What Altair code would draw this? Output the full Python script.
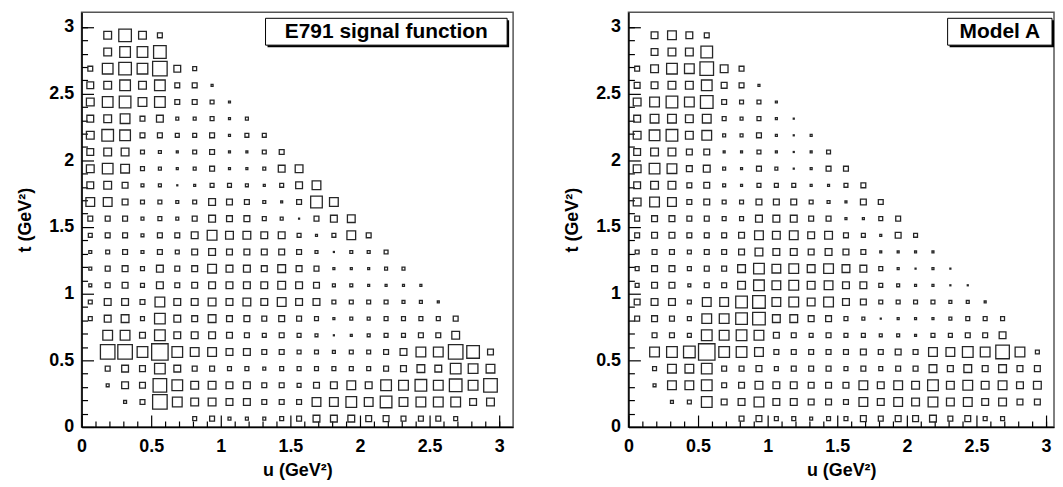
import altair as alt
import pandas as pd

# ---------------- data ----------------
N_BINS = 24
BIN_WIDTH = 0.125
U_CENTERS = [0.0625 + BIN_WIDTH * i for i in range(N_BINS)]
T_CENTERS = [0.0625 + BIN_WIDTH * i for i in range(N_BINS)]

MAJOR_TICKS = [0, 0.5, 1, 1.5, 2, 2.5, 3]
MINOR_TICKS = [0.1, 0.2, 0.3, 0.4, 0.6, 0.7, 0.8, 0.9, 1.1, 1.2, 1.3, 1.4,
               1.6, 1.7, 1.8, 1.9, 2.1, 2.2, 2.3, 2.4, 2.6, 2.7, 2.8, 2.9, 3.0]

# relative bin contents, rows listed from top (t bin 23) to bottom (t bin 0)
E791_ROWS = [
    [0, 8, 13, 8, 5],
    [0, 8, 11, 11, 13],
    [5, 11, 13, 11, 15, 7, 4],
    [7, 8, 11, 8, 11, 5, 5, 2],
    [8, 11, 12, 9, 11, 5, 5, 4, 2],
    [7, 8, 10, 5, 7, 3, 3, 4, 2, 3],
    [8, 12, 11, 5, 5, 4, 4, 5, 2, 4, 4],
    [7, 8, 8, 4, 3, 2, 4, 5, 2, 2, 4, 5],
    [8, 11, 9, 4, 3, 2, 3, 5, 2, 2, 3, 7, 8],
    [7, 8, 6, 3, 3, 1, 2, 4, 4, 3, 2, 4, 7, 9],
    [9, 9, 6, 4, 4, 3, 4, 7, 6, 5, 3, 2, 5, 12, 9],
    [5, 5, 5, 3, 4, 3, 5, 7, 6, 6, 4, 3, 1, 5, 7, 8],
    [4, 5, 5, 3, 5, 5, 7, 10, 8, 8, 7, 7, 4, 2, 4, 9, 5],
    [3, 4, 5, 3, 5, 4, 6, 7, 6, 6, 6, 6, 5, 3, 1, 3, 3, 4],
    [3, 5, 6, 4, 7, 5, 6, 9, 7, 7, 6, 8, 6, 5, 2, 2, 2, 3, 3],
    [3, 5, 6, 4, 7, 5, 6, 7, 7, 7, 7, 8, 7, 6, 3, 3, 2, 2, 2, 2],
    [4, 7, 7, 5, 10, 7, 7, 8, 7, 8, 7, 9, 7, 7, 4, 4, 4, 4, 3, 3, 2],
    [4, 7, 8, 4, 11, 7, 6, 8, 6, 6, 5, 6, 5, 4, 2, 3, 3, 4, 4, 4, 4, 5],
    [0, 10, 10, 6, 11, 7, 7, 7, 6, 5, 4, 5, 4, 3, 1, 2, 3, 4, 4, 5, 5, 8],
    [0, 15, 15, 11, 17, 11, 9, 9, 7, 7, 5, 5, 4, 4, 3, 4, 4, 5, 7, 10, 10, 15, 13, 6],
    [0, 5, 7, 6, 11, 7, 5, 5, 4, 4, 3, 4, 4, 4, 4, 4, 4, 5, 6, 8, 7, 11, 10, 9],
    [0, 3, 7, 6, 14, 11, 8, 8, 7, 7, 5, 5, 4, 6, 7, 9, 7, 11, 10, 12, 10, 13, 10, 14],
    [0, 0, 3, 5, 15, 10, 8, 8, 7, 7, 5, 5, 5, 9, 9, 11, 9, 12, 9, 10, 10, 10, 7, 8],
    [0, 0, 0, 0, 0, 0, 4, 5, 3, 3, 3, 4, 5, 7, 7, 7, 6, 6, 5, 5, 5, 4, 0, 0],
]

MODEL_A_ROWS = [
    [0, 7, 9, 7, 5],
    [0, 7, 8, 8, 12],
    [5, 8, 11, 10, 14, 8, 5],
    [6, 7, 8, 8, 11, 6, 5, 2],
    [8, 10, 12, 10, 13, 5, 4, 4, 2],
    [7, 9, 9, 8, 9, 4, 3, 4, 2, 1],
    [8, 11, 12, 8, 10, 3, 3, 5, 2, 1, 2],
    [7, 8, 8, 6, 6, 2, 2, 4, 2, 1, 2, 4],
    [8, 11, 10, 6, 7, 3, 2, 5, 3, 1, 2, 5, 5],
    [7, 8, 8, 5, 6, 3, 2, 4, 4, 4, 2, 2, 4, 5],
    [8, 10, 9, 5, 6, 4, 4, 6, 6, 6, 4, 3, 2, 6, 5],
    [5, 6, 6, 5, 5, 4, 4, 7, 7, 7, 5, 5, 2, 2, 4, 5],
    [5, 6, 6, 5, 5, 5, 6, 9, 8, 9, 7, 8, 5, 4, 2, 6, 4],
    [4, 5, 5, 4, 5, 5, 6, 8, 7, 7, 6, 7, 6, 5, 2, 2, 2, 2],
    [4, 6, 6, 4, 5, 5, 8, 11, 9, 10, 8, 10, 8, 7, 4, 2, 1, 2, 1],
    [4, 6, 6, 3, 5, 5, 8, 11, 9, 10, 8, 9, 7, 7, 4, 3, 2, 2, 1, 1],
    [6, 7, 7, 4, 9, 9, 12, 13, 9, 10, 8, 10, 7, 6, 4, 4, 4, 4, 3, 3, 2],
    [5, 6, 5, 4, 10, 10, 12, 13, 8, 8, 6, 6, 4, 3, 1, 2, 2, 2, 3, 4, 4, 4],
    [0, 5, 5, 4, 11, 10, 11, 10, 6, 5, 4, 5, 4, 4, 3, 3, 2, 4, 4, 5, 5, 7],
    [0, 10, 11, 12, 17, 11, 11, 9, 5, 5, 5, 5, 5, 6, 5, 6, 5, 9, 9, 11, 10, 14, 10, 4],
    [0, 4, 9, 9, 11, 5, 5, 6, 4, 5, 5, 5, 4, 5, 4, 5, 5, 8, 6, 8, 6, 8, 6, 6],
    [0, 3, 9, 9, 11, 5, 6, 8, 7, 7, 6, 6, 6, 9, 7, 9, 8, 11, 8, 10, 8, 9, 7, 8],
    [0, 0, 3, 4, 11, 6, 7, 10, 7, 7, 6, 6, 5, 9, 7, 9, 8, 10, 8, 9, 7, 8, 6, 6],
    [0, 0, 0, 0, 0, 0, 5, 6, 4, 4, 3, 4, 4, 6, 5, 6, 6, 7, 5, 6, 4, 4, 0, 0],
]

LABELS = ["E791 signal function", "Model A"]
X_TITLE = "u (GeV²)"
Y_TITLE = "t (GeV²)"


def to_frame(rows):
    recs = []
    n = len(rows)
    for k, row in enumerate(rows):
        ti = n - 1 - k
        for ui, v in enumerate(row):
            if v > 0:
                recs.append({"u": U_CENTERS[ui], "t": T_CENTERS[ti], "v": v})
    return pd.DataFrame(recs)


FONT = "Liberation Sans"
H = 417
Y_DOM = [0, 3.11]
V_MAX = 17.5


def panel(rows, label, width, x_max, box_x1, box_x2):
    df = to_frame(rows)
    xs = alt.Scale(domain=[0, x_max], nice=False, zero=False)
    ys = alt.Scale(domain=Y_DOM, nice=False, zero=False)
    base = alt.Chart(df)

    boxes = base.mark_point(
        shape="square", filled=False, stroke="#262626", strokeWidth=1.3, opacity=1
    ).encode(
        x=alt.X("u:Q", scale=xs, axis=alt.Axis(
            values=MAJOR_TICKS, format="~g", ticks=False, grid=False, domain=True,
            domainColor="black", domainWidth=1.5,
            labelFont=FONT, labelFontSize=18, labelFontWeight="bold",
            labelColor="black", labelPadding=11, labelFlush=False, labelOverlap=False,
            title=X_TITLE, titleFont=FONT, titleFontSize=18, titleFontWeight="bold",
            titleColor="black", titlePadding=6)),
        y=alt.Y("t:Q", scale=ys, axis=alt.Axis(
            values=MAJOR_TICKS, format="~g", ticks=False, grid=False, domain=True,
            domainColor="black", domainWidth=1.5,
            labelFont=FONT, labelFontSize=18, labelFontWeight="bold",
            labelColor="black", labelPadding=8, labelFlush=False, labelOverlap=False,
            title=Y_TITLE, titleFont=FONT, titleFontSize=18, titleFontWeight="bold",
            titleColor="black", titlePadding=14)),
        size=alt.Size("v:Q", scale=alt.Scale(type="pow", exponent=2, domain=[0, V_MAX],
                                             range=[0, 290]), legend=None),
    )

    def tick_layer(vals, length):
        return base.mark_point(opacity=0).encode(
            x=alt.X("u:Q", scale=xs, axis=alt.Axis(
                values=vals, labels=False, domain=False, grid=False, title=None,
                ticks=True, tickColor="black", tickWidth=1.2,
                tickSize=alt.ExprRef(expr=str(-length)), orient="bottom")),
            y=alt.Y("t:Q", scale=ys, axis=alt.Axis(
                values=vals, labels=False, domain=False, grid=False, title=None,
                ticks=True, tickColor="black", tickWidth=1.2,
                tickSize=alt.ExprRef(expr=str(-length)), orient="left")),
        )

    major = tick_layer(MAJOR_TICKS, 12)
    minor = tick_layer(MINOR_TICKS, 6)

    one = pd.DataFrame({"label": [label]})
    shadow = alt.Chart(one).mark_rect(color="black").encode(
        x=alt.value(box_x1 + 2), x2=alt.value(box_x2 + 2),
        y=alt.value(8), y2=alt.value(35))
    frame = alt.Chart(one).mark_rect(fill="white", stroke="black", strokeWidth=1).encode(
        x=alt.value(box_x1), x2=alt.value(box_x2),
        y=alt.value(6), y2=alt.value(33))
    text = alt.Chart(one).mark_text(
        font=FONT, fontSize=21, fontWeight="bold", color="black",
        align="center", baseline="middle").encode(
        x=alt.value((box_x1 + box_x2) / 2), y=alt.value(20), text="label:N")

    return alt.layer(boxes, major, minor, shadow, frame, text).resolve_axis(
        x="independent", y="independent").properties(width=width, height=H)


left = panel(E791_ROWS, LABELS[0], 434, 3.1, 185, 428)
right = panel(MODEL_A_ROWS, LABELS[1], 428, 3.057, 321, 426)

chart = alt.hconcat(left, right, spacing=116, bounds="flush").properties(
    padding={"left": 8, "top": 2, "right": 0, "bottom": 0},
).configure_view(stroke="#555", strokeWidth=1.5)

chart.save("out.html", embed_options={"renderer": "svg", "actions": False})
